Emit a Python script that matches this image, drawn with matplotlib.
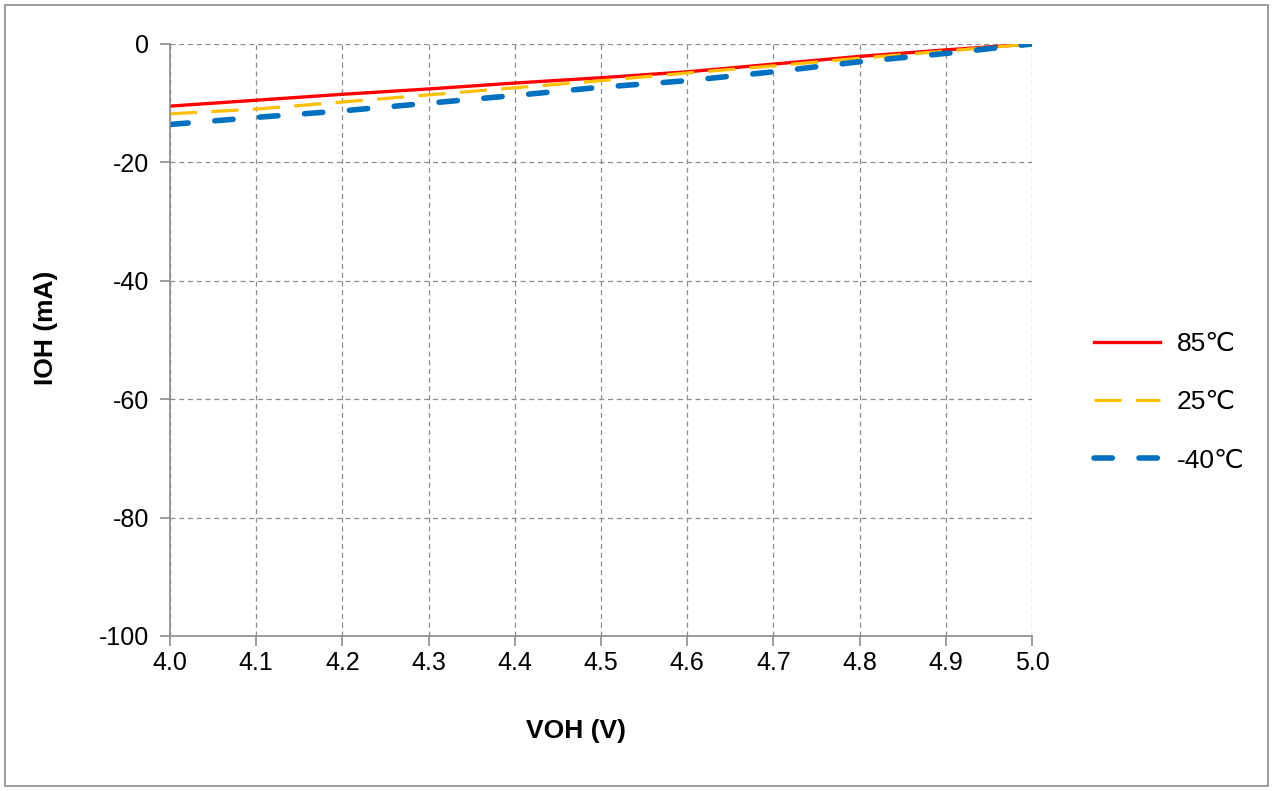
import matplotlib
matplotlib.use('Agg')
import matplotlib.pyplot as plt
from matplotlib.patches import Rectangle

plt.rcParams['font.family'] = ['Liberation Sans', 'DejaVu Sans', 'Noto Sans CJK SC']
plt.rcParams['axes.unicode_minus'] = False

# VOH (V) vs IOH (mA)
voh = [4.0, 4.1, 4.2, 4.3, 4.4, 4.5, 4.6, 4.7, 4.8, 4.9, 5.0]
ioh_85 = [-10.5, -9.5, -8.5, -7.6, -6.6, -5.7, -4.7, -3.4, -2.1, -1.0, 0.0]
ioh_25 = [-11.8, -11.0, -9.8, -8.6, -7.4, -6.2, -4.9, -3.7, -2.4, -1.2, 0.0]
ioh_m40 = [-13.6, -12.4, -11.3, -10.0, -8.7, -7.3, -6.2, -4.7, -3.0, -1.6, 0.0]
labels = ['85℃', '25℃', '-40℃']

fig = plt.figure(figsize=(12.74, 7.91), dpi=100)
ax = fig.add_axes([0.1334, 0.196, 0.6766, 0.7484])

ax.plot(voh, ioh_85, color='#FF0000', lw=2.4, label=labels[0])
ax.plot(voh, ioh_25, color='#FFC000', lw=2.3, dashes=(8.5, 4.5), label=labels[1])
ax.plot(voh, ioh_m40, color='#0070C0', lw=4.0, dashes=(3.3, 4.8),
        dash_capstyle='round', label=labels[2])

ax.set_xlim(4.0, 5.0)
ax.set_ylim(-100, 0)
ax.set_xticks([4.0 + 0.1 * i for i in range(11)])
ax.set_xticklabels(['%.1f' % (4.0 + 0.1 * i) for i in range(11)])
ax.set_yticks(range(-100, 1, 20))

ax.grid(True, color='#8c8c8c', ls=(0, (4, 3)), lw=0.9)
for s in ['top', 'right']:
    ax.spines[s].set_visible(False)
for s in ['left', 'bottom']:
    ax.spines[s].set_color('#8c8c8c')
    ax.spines[s].set_linewidth(1.2)
ax.tick_params(direction='out', length=7, color='#8c8c8c', width=1.2,
               labelsize=18, pad=4)
ax.tick_params(axis='y', pad=8)

ax.set_xlabel('VOH (V)', fontsize=19, fontweight='bold')
ax.set_ylabel('IOH (mA)', fontsize=19, fontweight='bold')
ax.xaxis.set_label_coords(0.471, -0.141)
ax.yaxis.set_label_coords(-0.130, 0.52)

ax.legend(loc='center left', bbox_to_anchor=(1.044, 0.395), frameon=False,
          fontsize=19, handlelength=2.5, handletextpad=0.65, labelspacing=1.3)

fig.patches.append(Rectangle((0.004, 0.006), 0.991, 0.988, transform=fig.transFigure,
                             fill=False, edgecolor='#8c8c8c', lw=1.2))

fig.savefig('out.png', dpi=100)
